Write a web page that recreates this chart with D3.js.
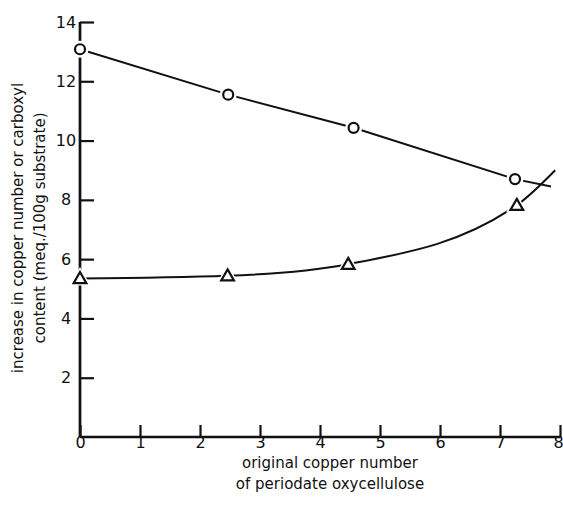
<!DOCTYPE html>
<html>
<head>
<meta charset="utf-8">
<script src="https://cdn.jsdelivr.net/npm/d3@7"></script>
<style>
  html, body { margin: 0; padding: 0; background: #fff; }
  svg { display: block; }
  text { font-family: "DejaVu Sans", sans-serif; fill: #111; }
</style>
</head>
<body>
<svg id="chart" width="563" height="506"></svg>
<script>
// Original copper number of the periodate oxycellulose
const copperX = [0, 2.47, 4.56, 7.25];
// Increase in copper number (circles)
const copperIncrease = [13.08, 11.55, 10.43, 8.7];
// Straight line through the circles, continued slightly past the last point
const copperLineEnd = [7.85, 8.45];

const carboxylX = [0, 2.46, 4.47, 7.28];
// Increase in carboxyl content (triangles)
const carboxylIncrease = [5.35, 5.44, 5.83, 7.82];
// Smooth curve through the triangles, continued upward past the last point
const carboxylCurveEnd = [7.92, 9.0];

const xTicks = [0, 1, 2, 3, 4, 5, 6, 7, 8];
const yTicks = [2, 4, 6, 8, 10, 12, 14];

const svg = d3.select("#chart");
const x = d3.scaleLinear().domain([0, 8]).range([80, 560]);
const y = d3.scaleLinear().domain([0, 14]).range([437, 22]);

const ink = "#111";

// Axes
const xAxis = svg.append("g").attr("transform", `translate(0,${y(0)})`)
  .call(d3.axisBottom(x).tickValues(xTicks).tickSize(-12).tickPadding(0).tickFormat(d3.format("d")));
const yAxis = svg.append("g").attr("transform", `translate(${x(0)},0)`)
  .call(d3.axisLeft(y).tickValues(yTicks).tickSize(-14).tickPadding(11).tickFormat(d3.format("d")));

[xAxis, yAxis].forEach(g => {
  g.select(".domain").attr("stroke", ink).attr("stroke-width", 2.4);
  g.selectAll(".tick line").attr("stroke", ink).attr("stroke-width", 2.2);
  g.selectAll(".tick text").attr("font-size", 16).attr("fill", ink)
    .style("font-family", '"DejaVu Sans", sans-serif');
});
xAxis.select(".domain").attr("d", `M${x(0)},0H${x(8)}`);
yAxis.select(".domain").attr("d", `M0,${y(0)}V${y(14)}`);
xAxis.selectAll(".tick text").filter(d => d === 8).attr("dx", -2);
yAxis.selectAll(".tick text").attr("text-anchor", "middle").attr("dx", -3);

// Axis titles
svg.append("text").attr("x", 330).attr("y", 468).attr("text-anchor", "middle")
  .attr("font-size", 15).text("original copper number");
svg.append("text").attr("x", 330).attr("y", 489).attr("text-anchor", "middle")
  .attr("font-size", 15).text("of periodate oxycellulose");

const yt = svg.append("g").attr("transform", "translate(0,228) rotate(-90)");
yt.append("text").attr("x", 0).attr("y", 23).attr("text-anchor", "middle")
  .attr("font-size", 15).text("increase in copper number or carboxyl");
yt.append("text").attr("x", 0).attr("y", 45).attr("text-anchor", "middle")
  .attr("font-size", 15).text("content (meq./100g substrate)");

// Copper number line
const copperPts = copperX.map((v, i) => [v, copperIncrease[i]]).concat([copperLineEnd]);
svg.append("path")
  .attr("d", d3.line().x(d => x(d[0])).y(d => y(d[1]))(copperPts))
  .attr("fill", "none").attr("stroke", ink).attr("stroke-width", 2);

// Carboxyl curve
const carbPts = carboxylX.map((v, i) => [v, carboxylIncrease[i]]).concat([carboxylCurveEnd]);
svg.append("path")
  .attr("d", d3.line().x(d => x(d[0])).y(d => y(d[1])).curve(d3.curveMonotoneX)(carbPts))
  .attr("fill", "none").attr("stroke", ink).attr("stroke-width", 2);

// Circle markers with a small white gap around them
copperX.forEach((v, i) => {
  const cx = x(v), cy = y(copperIncrease[i]);
  svg.append("circle").attr("cx", cx).attr("cy", cy).attr("r", 8.5).attr("fill", "#fff");
  svg.append("circle").attr("cx", cx).attr("cy", cy).attr("r", 5)
    .attr("fill", "#fff").attr("stroke", ink).attr("stroke-width", 2.2);
});

// Triangle markers
const tri = d3.symbol().type(d3.symbolTriangle).size(70);
const triGap = d3.symbol().type(d3.symbolTriangle).size(200);
carboxylX.forEach((v, i) => {
  const tx = x(v), ty = y(carboxylIncrease[i]) + 1;
  svg.append("path").attr("d", triGap()).attr("transform", `translate(${tx},${ty})`).attr("fill", "#fff");
  svg.append("path").attr("d", tri()).attr("transform", `translate(${tx},${ty})`)
    .attr("fill", "#fff").attr("stroke", ink).attr("stroke-width", 2.2).attr("stroke-linejoin", "miter");
});

// Vertical axis line kept beneath the markers that sit on it
svg.append("line").attr("x1", x(0)).attr("x2", x(0)).attr("y1", y(0)).attr("y2", y(14))
  .attr("stroke", ink).attr("stroke-width", 2.4).lower();
</script>
</body>
</html>
